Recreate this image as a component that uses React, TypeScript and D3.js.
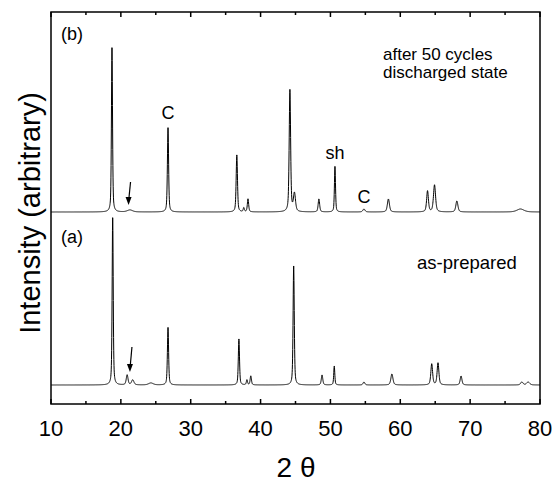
import React, { useEffect, useRef } from 'react';
import * as d3 from 'd3';

// peaks: [2theta, height, fwhm]
const peaksA: [number, number, number][] = [
  [18.83, 169, 0.18], [20.9, 10, 0.3], [21.7, 5, 0.4], [24.3, 2, 0.8],
  [26.75, 58, 0.2], [36.9, 46, 0.2], [38.05, 5, 0.2], [38.6, 9, 0.22],
  [44.74, 119, 0.2], [48.8, 10, 0.25], [50.55, 19, 0.18], [54.8, 3, 0.3],
  [58.8, 11, 0.35], [64.5, 21, 0.3], [65.4, 22, 0.3], [68.7, 9, 0.3],
  [77.4, 3, 0.4], [78.3, 3, 0.5],
];
const peaksB: [number, number, number][] = [
  [18.73, 166, 0.18], [21.3, 2, 0.9], [26.75, 85, 0.2], [36.6, 57, 0.22],
  [37.6, 4, 0.2], [38.2, 13, 0.22], [44.2, 122, 0.24], [44.85, 18, 0.35],
  [48.35, 13, 0.25], [50.65, 46, 0.18], [54.8, 3, 0.35], [58.3, 13, 0.35],
  [63.9, 21, 0.3], [64.9, 27, 0.35], [68.1, 11, 0.35], [77.2, 3, 1.2],
];
const offsetA = 19;
const offsetB = 192;
const xTicks = [10, 20, 30, 40, 50, 60, 70, 80];
const xMinor = [15, 25, 35, 45, 55, 65, 75];

const W = 555;
const H = 483;
const m = { left: 51, right: 15, top: 12, bottom: 79 };

const profile = (peaks: [number, number, number][], offset: number) => {
  const pts: [number, number][] = [];
  for (let t = 10; t <= 80.001; t += 0.02) {
    let v = offset;
    peaks.forEach(([c, h, w]) => {
      const u = (t - c) / (w / 2);
      v += h * (0.5 / (1 + u * u) + 0.5 * Math.exp(-Math.LN2 * u * u));
    });
    pts.push([t, v]);
  }
  return pts;
};

const App = () => {
  const ref = useRef<SVGSVGElement>(null);

  useEffect(() => {
    const svg = d3.select(ref.current);
    svg.selectAll('*').remove();
    const font = 'Arial, "Liberation Sans", Helvetica, sans-serif';

    const x = d3.scaleLinear().domain([10, 80]).range([m.left, W - m.right]);
    const y = d3.scaleLinear().domain([0, 392]).range([H - m.bottom, m.top]);

    const line = d3.line<[number, number]>()
      .x(d => x(d[0]))
      .y(d => y(d[1]));

    const g = svg.append('g');

    [profile(peaksA, offsetA), profile(peaksB, offsetB)].forEach(pts => {
      g.append('path')
        .attr('d', line(pts))
        .attr('fill', 'none')
        .attr('stroke', '#000')
        .attr('stroke-width', 1);
    });

    // frame
    g.append('rect')
      .attr('x', x(10)).attr('y', y(392))
      .attr('width', x(80) - x(10)).attr('height', y(0) - y(392))
      .attr('fill', 'none').attr('stroke', '#000').attr('stroke-width', 1.5);

    // ticks inward on bottom and top
    const ticks = (vals: number[], len: number) => {
      vals.forEach(v => {
        g.append('line')
          .attr('x1', x(v)).attr('x2', x(v))
          .attr('y1', y(0)).attr('y2', y(0) - len)
          .attr('stroke', '#000').attr('stroke-width', 1.5);
        g.append('line')
          .attr('x1', x(v)).attr('x2', x(v))
          .attr('y1', y(392)).attr('y2', y(392) + len)
          .attr('stroke', '#000').attr('stroke-width', 1.5);
      });
    };
    ticks(xTicks, 5);
    ticks(xMinor, 3);

    g.selectAll('.tl').data(xTicks).enter().append('text')
      .attr('x', d => x(d)).attr('y', y(0) + 32)
      .attr('text-anchor', 'middle')
      .style('font-family', font).style('font-size', '22px')
      .text(d => d);

    g.append('text')
      .attr('x', 296).attr('y', 477)
      .attr('text-anchor', 'middle')
      .style('font-family', font).style('font-size', '28px')
      .text('2 θ');

    g.append('text')
      .attr('transform', `translate(40, 213) rotate(-90)`)
      .attr('text-anchor', 'middle')
      .style('font-family', font).style('font-size', '29px')
      .text('Intensity (arbitrary)');

    const label = (tx: number, ty: number, s: string, anchor = 'start', size = 17) => {
      g.append('text')
        .attr('x', tx).attr('y', ty)
        .attr('text-anchor', anchor)
        .style('font-family', font).style('font-size', `${size}px`)
        .text(s);
    };
    label(61, 40, '(b)', 'start', 18);
    label(61, 243, '(a)', 'start', 18);
    label(x(26.75), 119, 'C', 'middle', 18);
    label(x(50.65), 159, 'sh', 'middle', 18);
    label(x(54.8), 203, 'C', 'middle', 18);
    label(383, 60, 'after 50 cycles');
    label(383, 78, 'discharged state');
    label(417, 269, 'as-prepared', 'start', 18.5);

    // arrows
    const arrow = (t: number, top: number, bottom: number) => {
      const xt = x(t);
      g.append('line')
        .attr('x1', xt + 2).attr('y1', y(top))
        .attr('x2', xt + 0.3).attr('y2', y(bottom) - 6)
        .attr('stroke', '#000').attr('stroke-width', 1.2);
      g.append('path')
        .attr('d', `M${xt - 3},${y(bottom) - 8} L${xt},${y(bottom)} L${xt + 3},${y(bottom) - 8} Z`)
        .attr('fill', '#000');
    };
    arrow(21.1, 222, 199);
    arrow(21.3, 57, 32);
  }, []);

  return (
    <div style={{ position: 'fixed', left: 0, top: 0 }}>
      <svg ref={ref} width={W} height={H} style={{ display: 'block', background: '#fff' }}></svg>
    </div>
  );
};

export default App;
